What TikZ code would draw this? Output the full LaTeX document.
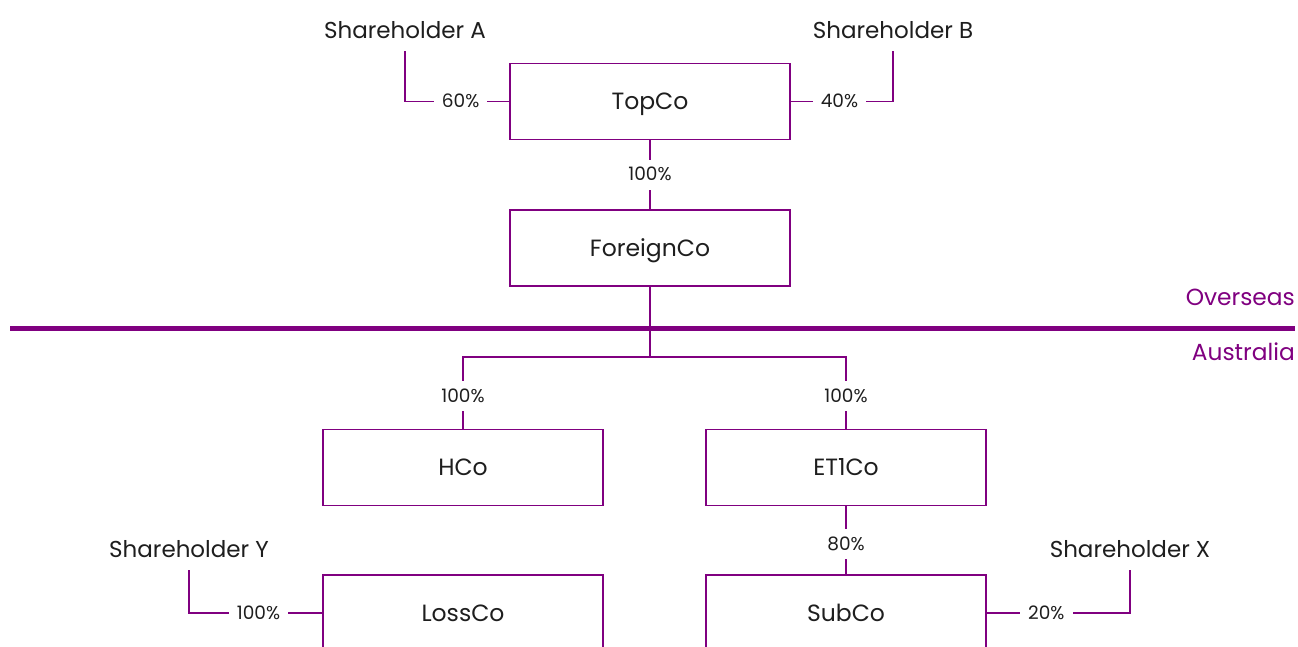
\documentclass[tikz,border=0pt]{standalone}
\usepackage{fontspec}
\setmainfont{Poppins}
\definecolor{corp}{HTML}{800080}
\definecolor{ink}{HTML}{1E1E1E}
\begin{document}
\begin{tikzpicture}[x=1pt,y=-1pt,
  box/.style={draw=corp,line width=1.6pt,minimum width=280pt,minimum height=76pt,inner sep=0pt,text=ink,text height=16.5pt,text depth=0pt,font=\fontsize{23.5}{26}\selectfont},
  holder/.style={anchor=base,text=ink,font=\fontsize{23}{26}\selectfont,text depth=4pt,inner ysep=9pt,inner xsep=0pt},
  pct/.style={fill=white,text=ink,font=\fontsize{18.5}{21}\selectfont,text height=12pt,text depth=0pt,inner xsep=8pt,inner ysep=9pt},
  link/.style={draw=corp,line width=1.6pt},
  region/.style={anchor=base east,text=corp,inner sep=0pt,font=\fontsize{23.3}{26}\selectfont}]
\clip (0,0) rectangle (1298,646);
\fill[white] (0,0) rectangle (1298,646);
% boxes
\node[box] (top) at (650,101.5) {TopCo};
\node[box] (fc) at (650,248) {ForeignCo};
\node[box] (hco) at (463,467.5) {HCo};
\node[box] (et1) at (846,467.5) {ET1Co};
\node[box] (loss) at (463,613) {LossCo};
\node[box] (sub) at (846,613) {SubCo};
% shareholders
\node[holder] (sa) at (405,38) {Shareholder A};
\node[holder] (sb) at (893,38) {Shareholder B};
\node[holder] (sy) at (189,557) {Shareholder Y};
\node[holder] (sx) at (1130,557) {Shareholder X};
% border
\coordinate (bl) at (10,328.5);
\coordinate (br) at (1295,328.5);
\draw[corp,line width=5.5pt] (bl) -- (br);
\node[region] (ov) at (1295,305) {Overseas};
\node[region] (au) at (1295,360) {Australia};
% connectors
\draw[link] (top.west) -| node[pct,pos=0.233] {60\%} (sa.south);
\draw[link] (top.east) -| node[pct,pos=0.238] {40\%} (sb.south);
\draw[link] (top.south) -- node[pct,pos=0.5] {100\%} (fc.north);
\coordinate (split) at (650,357);
\draw[link] (fc.south) -- (split);
\draw[link] (split) -| node[pct,pos=0.774] {100\%} (hco.north);
\draw[link] (split) -| node[pct,pos=0.774] {100\%} (et1.north);
\draw[link] (et1.south) -- node[pct,pos=0.56] {80\%} (sub.north);
\draw[link] (loss.west) -| node[pct,pos=0.239] {100\%} (sy.south);
\draw[link] (sub.east) -| node[pct,pos=0.208] {20\%} (sx.south);
\end{tikzpicture}
\end{document}
